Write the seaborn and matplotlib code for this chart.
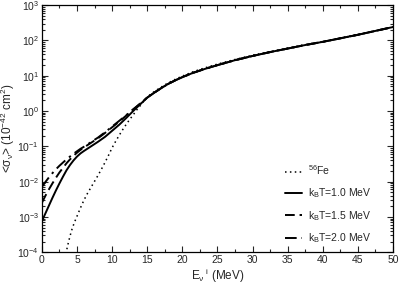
import numpy as np
import pandas as pd
import matplotlib
matplotlib.use("Agg")
import matplotlib.pyplot as plt
import seaborn as sns
from matplotlib.ticker import MultipleLocator, LogLocator, LogFormatterMathtext, NullFormatter

sns.set_style("ticks")
plt.rcParams['font.family'] = ['Liberation Sans', 'DejaVu Sans']
plt.rcParams['mathtext.fontset'] = 'custom'
plt.rcParams['mathtext.rm'] = 'Liberation Sans'
plt.rcParams['mathtext.it'] = 'Liberation Sans:italic'
plt.rcParams['mathtext.default'] = 'regular'

# Energies (MeV)
E_low = [0, 0.5, 1, 1.5, 2, 2.5, 3, 3.5, 4, 4.5, 5, 5.5, 6, 7, 8, 9, 10, 11, 12, 13, 14, 15]
E_high = [16, 17, 18, 19, 20, 21.5, 23, 25, 27.5, 30, 32.5, 35, 37.5, 40, 42.5, 45, 47.5, 50]

# log10 of <sigma> for E <= 15
log_T10 = [-3.12, -2.90, -2.68, -2.46, -2.25, -2.05, -1.86, -1.68, -1.53, -1.40,
           -1.29, -1.20, -1.13, -1.00, -0.87, -0.73, -0.56, -0.39, -0.20, 0.00,
           0.19, 0.38]
log_T15 = [-2.60, -2.40, -2.22, -2.05, -1.89, -1.74, -1.61, -1.48, -1.37, -1.27,
           -1.18, -1.10, -1.03, -0.90, -0.77, -0.62, -0.46, -0.30, -0.13, 0.04,
           0.21, 0.38]
log_T20 = [-2.15, -2.01, -1.88, -1.76, -1.65, -1.55, -1.46, -1.37, -1.29, -1.21,
           -1.14, -1.07, -1.01, -0.88, -0.75, -0.60, -0.44, -0.28, -0.12, 0.05,
           0.21, 0.38]
# common high-energy part (log10)
log_high = [0.52, 0.65, 0.77, 0.87, 0.96, 1.08, 1.18, 1.30, 1.44, 1.56, 1.67, 1.77,
            1.87, 1.96, 2.06, 2.16, 2.27, 2.38]

# 56Fe (dotted)
E_fe = [3.4, 3.8, 4.2, 4.6, 5, 5.5, 6, 6.5, 7, 7.5, 8, 8.5, 9, 9.5, 10, 10.5, 11,
        11.5, 12, 12.5, 13, 13.5, 14, 14.5, 15, 16, 17, 18, 19, 20, 21.5, 23, 25,
        27.5, 30, 32.5, 35, 37.5, 40, 42.5, 45, 47.5, 50]
log_fe = [-4.05, -3.70, -3.40, -3.17, -2.98, -2.74, -2.52, -2.33, -2.16, -1.99,
          -1.82, -1.64, -1.45, -1.25, -1.04, -0.86, -0.69, -0.53, -0.38, -0.24,
          -0.11, 0.03, 0.15, 0.28, 0.40, 0.55, 0.68, 0.80, 0.90, 0.99, 1.11, 1.21,
          1.33, 1.46, 1.58, 1.68, 1.78, 1.88, 1.97, 2.07, 2.17, 2.27, 2.38]

labels = [r'$^{56}$Fe', r'k$_B$T=1.0 MeV', r'k$_B$T=1.5 MeV', r'k$_B$T=2.0 MeV']

fig, ax = plt.subplots(figsize=(3.99, 2.85), dpi=100)
fig.subplots_adjust(left=0.105, right=0.985, top=0.982, bottom=0.115)

def df(E, lg):
    return pd.DataFrame({'E': E, 's': 10 ** np.array(lg)})

sns.lineplot(data=df(E_fe, log_fe), x='E', y='s', ax=ax, color='black', lw=1.1,
             linestyle=(0, (1, 2.2)), label=labels[0])
sns.lineplot(data=df(E_low + E_high, log_T10 + log_high), x='E', y='s', ax=ax,
             color='black', lw=1.4, label=labels[1])
sns.lineplot(data=df(E_low + E_high, log_T15 + log_high), x='E', y='s', ax=ax,
             color='black', lw=1.4, linestyle=(0, (5, 2.5)), label=labels[2])
sns.lineplot(data=df(E_low + E_high, log_T20 + log_high), x='E', y='s', ax=ax,
             color='black', lw=1.4, linestyle=(0, (6, 2.5, 1.2, 2.5)), label=labels[3])

ax.set_yscale('log')
ax.set_xlim(0, 50)
ax.set_ylim(1e-4, 1e3)
ax.xaxis.set_major_locator(MultipleLocator(5))
ax.xaxis.set_minor_locator(MultipleLocator(2.5))
ax.yaxis.set_major_locator(LogLocator(base=10, numticks=20))
ax.yaxis.set_minor_locator(LogLocator(base=10, subs=np.arange(2, 10), numticks=20))
ax.yaxis.set_major_formatter(LogFormatterMathtext())
ax.yaxis.set_minor_formatter(NullFormatter())

ax.tick_params(which='both', direction='in', top=True, right=True, labelsize=7.5,
               width=0.8, pad=2)
ax.tick_params(which='major', length=4)
ax.tick_params(which='minor', length=2)
for s in ax.spines.values():
    s.set_linewidth(0.9)
    s.set_color('black')

ax.set_xlabel(r'E$_{\nu}$$^{\ i}$ (MeV)', fontsize=8.5, labelpad=0)
ax.set_ylabel(r'<$\sigma_{\nu}$> (10$^{-42}$ cm$^{2}$)', fontsize=8.5, labelpad=0)
ax.xaxis.set_label_coords(0.5, -0.06)
ax.yaxis.set_label_coords(-0.07, 0.5)

leg = ax.legend(loc='lower right', bbox_to_anchor=(0.965, -0.01), frameon=False,
                fontsize=7.5, handlelength=1.6, handletextpad=0.6, labelspacing=0.85)

fig.savefig('out.png', dpi=100)
